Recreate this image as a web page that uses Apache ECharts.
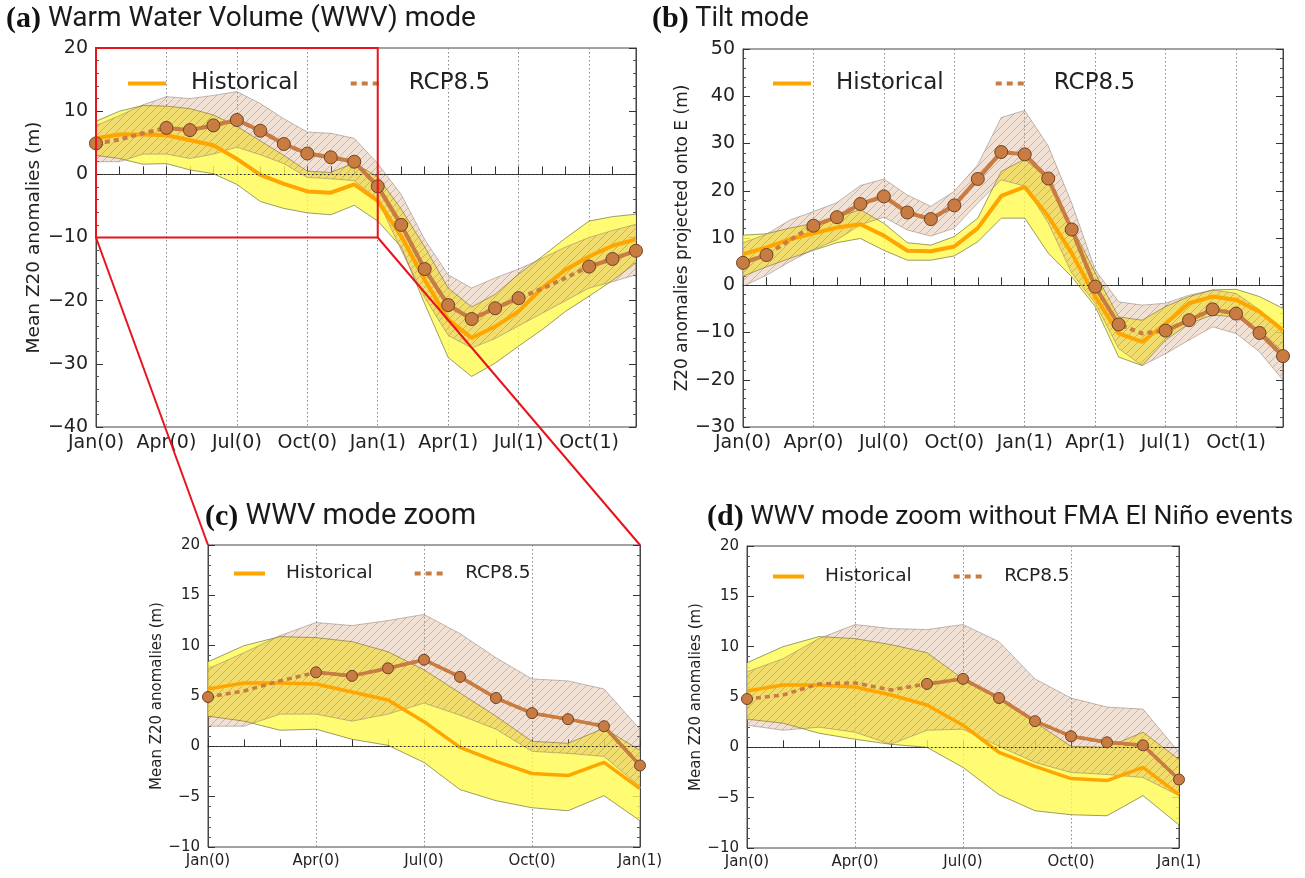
<!DOCTYPE html>
<html lang="en">
<head>
<meta charset="UTF-8">
<title>WWV and tilt modes</title>
<script src="https://cdn.jsdelivr.net/npm/echarts@6/dist/echarts.min.js"></script>
<style>
    html, body { margin: 0; padding: 0; background: #fff; }
    #chart { width: 1305px; height: 878px; }
</style>
</head>
<body>
<div id="chart"></div>
<script type="text/javascript">
// month labels (ticks every month, labels every 3rd)
var months24 = ['Jan(0)', 'Feb(0)', 'Mar(0)', 'Apr(0)', 'May(0)', 'Jun(0)', 'Jul(0)', 'Aug(0)', 'Sep(0)', 'Oct(0)', 'Nov(0)', 'Dec(0)',
    'Jan(1)', 'Feb(1)', 'Mar(1)', 'Apr(1)', 'May(1)', 'Jun(1)', 'Jul(1)', 'Aug(1)', 'Sep(1)', 'Oct(1)', 'Nov(1)', 'Dec(1)'];
var months13 = months24.slice(0, 13);

// (a) WWV mode, 24 months
var histA   = [5.7, 6.3, 6.3, 6.2, 5.4, 4.6, 2.45, -0.1, -1.5, -2.7, -2.9, -1.6, -4.2, -9.8, -16.7, -23.0, -25.9, -24.1, -21.7, -18.0, -15.1, -13.0, -11.3, -10.3];
var histHiA = [8.4, 10.0, 10.9, 10.8, 10.4, 9.4, 7.6, 5.3, 3.0, 0.5, 0.3, 1.8, -0.4, -5.5, -11.5, -18.0, -21.0, -19.0, -15.8, -13.0, -10.1, -7.4, -6.7, -6.3];
var histLoA = [3.0, 2.5, 1.6, 1.7, 0.7, 0.1, -1.6, -4.3, -5.4, -6.1, -6.4, -4.9, -7.4, -11.5, -20.5, -29.0, -32.0, -29.9, -27.2, -24.6, -21.7, -19.3, -16.8, -14.0];
var rcpA    = [4.9, 5.5, 6.5, 7.35, 7.0, 7.75, 8.6, 6.9, 4.8, 3.3, 2.7, 2.0, -1.9, -8.0, -15.0, -20.7, -22.9, -21.2, -19.6, -18.1, -16.4, -14.6, -13.4, -12.1];
var rcpHiA  = [7.7, 9.3, 11.0, 12.3, 12.0, 12.5, 13.1, 11.2, 8.8, 6.7, 6.5, 5.7, 1.7, -3.2, -10.3, -15.9, -18.0, -16.4, -15.0, -13.3, -11.5, -10.0, -8.9, -7.9];
var rcpLoA  = [2.0, 2.0, 3.2, 3.2, 2.5, 3.2, 4.3, 3.1, 1.7, -0.5, -0.7, -1.0, -4.0, -12.0, -19.5, -25.5, -27.5, -26.0, -24.0, -22.0, -20.0, -18.0, -17.0, -15.9];
var sigA    = [0, 3, 4, 5, 6, 7, 8, 9, 10, 11, 12, 13, 14, 15, 16, 17, 18, 21, 22, 23];

// (b) Tilt mode, 24 months
var histB   = [6.6, 8.0, 9.7, 11.0, 12.2, 12.9, 10.5, 7.3, 7.2, 8.2, 12.1, 18.9, 20.8, 14.6, 6.8, -2.4, -10.2, -12.0, -8.1, -3.8, -2.4, -3.1, -5.6, -9.5];
var histHiB = [10.6, 10.9, 12.1, 13.1, 14.4, 16.0, 13.1, 9.0, 8.5, 10.3, 14.2, 24.1, 26.7, 22.4, 12.5, 2.6, -6.7, -7.4, -4.5, -2.4, -1.0, -0.85, -2.4, -4.9];
var histLoB = [1.9, 3.9, 5.7, 7.4, 9.0, 9.9, 7.4, 5.3, 5.3, 6.2, 9.2, 14.2, 14.2, 6.8, 1.8, -4.5, -15.2, -17.0, -11.6, -8.1, -6.3, -6.7, -9.5, -14.1];
var rcpB    = [4.75, 6.4, 9.6, 12.6, 14.4, 17.2, 18.8, 15.4, 14.0, 16.9, 22.5, 28.2, 27.7, 22.6, 11.8, -0.3, -8.3, -10.2, -9.6, -7.4, -5.1, -6.0, -10.1, -15.0];
var rcpHiB  = [9.0, 10.8, 13.8, 15.6, 17.5, 21.1, 22.5, 19.1, 16.7, 19.9, 25.5, 35.5, 37.0, 29.5, 17.4, 3.3, -3.5, -4.2, -3.8, -2.1, -1.0, -1.7, -5.2, -10.2];
var rcpLoB  = [-0.2, 2.1, 5.0, 7.6, 9.6, 12.8, 14.4, 11.7, 10.4, 12.1, 17.4, 22.3, 21.0, 13.2, 2.6, -3.8, -13.4, -17.0, -14.5, -11.6, -8.8, -10.2, -14.1, -20.1];
var sigB    = [0, 1, 3, 4, 5, 6, 7, 8, 9, 10, 11, 12, 13, 14, 15, 16, 18, 19, 20, 21, 22, 23];

// (d) WWV mode zoom without FMA El Nino events, 13 months
var histD   = [5.6, 6.2, 6.2, 6.0, 5.2, 4.2, 2.2, -0.5, -1.9, -3.1, -3.3, -2.0, -4.7];
var histHiD = [8.4, 10.0, 11.0, 10.8, 10.2, 9.4, 6.8, 4.8, 2.5, 0.1, 0.0, 1.5, -1.2];
var histLoD = [2.8, 2.4, 1.4, 0.8, 0.3, 0.0, -2.0, -4.7, -6.3, -6.7, -6.8, -4.8, -7.7];
var rcpD    = [4.8, 5.2, 6.3, 6.4, 5.7, 6.3, 6.8, 4.9, 2.6, 1.1, 0.5, 0.2, -3.2];
var rcpHiD  = [7.5, 8.8, 10.8, 12.2, 11.8, 11.7, 12.2, 10.5, 6.8, 4.9, 4.0, 3.8, -0.5];
var rcpLoD  = [2.2, 1.7, 2.0, 1.5, 0.3, 1.7, 1.8, 0.1, -1.5, -2.5, -2.7, -3.0, -4.8];
var sigD    = [0, 5, 6, 7, 8, 9, 10, 11, 12];

// red zoom box of panel (a): months and value range shown in (c)
var zoomMonths = [0, 12];
var zoomRange = [-10, 20];

var ORANGE = '#ffa500';
var BROWN = '#c87c42';

function hatchCanvas() {
    var s = 8;
    var c = document.createElement('canvas');
    c.width = s; c.height = s;
    var g = c.getContext('2d');
    g.fillStyle = 'rgba(205,140,95,0.27)';
    g.fillRect(0, 0, s, s);
    g.strokeStyle = 'rgba(105,95,85,0.32)';
    g.lineWidth = 1;
    g.beginPath();
    g.moveTo(0, s); g.lineTo(s, 0);
    g.moveTo(-1, 1); g.lineTo(1, -1);
    g.moveTo(s - 1, s + 1); g.lineTo(s + 1, s - 1);
    g.stroke();
    return c;
}
var hatch = hatchCanvas();

function minus(v) { return String(v).replace('-', '\u2212'); }
function spread(hi, lo) { return hi.map(function (v, i) { return +(v - lo[i]).toFixed(2); }); }
function onlySig(vals, sig) { return vals.map(function (v, i) { return sig.indexOf(i) >= 0 ? v : null; }); }

var grids = [], xAxes = [], yAxes = [], series = [], legends = [], titles = [];

function addPanel(p) {
    var gi = grids.length;
    grids.push({left: p.box[0], top: p.box[1], width: p.box[2], height: p.box[3],
        show: true, borderColor: '#444', borderWidth: 1, backgroundColor: 'transparent'});
    xAxes.push({
        type: 'category', gridIndex: gi, data: p.cats, boundaryGap: false,
        axisLine: {show: true, lineStyle: {color: '#444'}},
        axisTick: {show: true, inside: true, interval: 0, length: p.big ? 8 : 7, lineStyle: {color: '#333'}},
        axisLabel: {interval: 2, fontSize: p.tickFont, color: '#222', fontFamily: 'DejaVu Sans', margin: 7},
        splitLine: {show: true, interval: 2, lineStyle: {type: [1.5, 2.5], color: '#888', width: 1}}
    });
    var yBase = {
        type: 'value', gridIndex: gi, min: p.y[0], max: p.y[1], interval: p.y[2],
        axisLine: {show: true, lineStyle: {color: '#444'}},
        axisTick: {show: true, inside: true, length: 7, lineStyle: {color: '#333'}},
        minorTick: {show: true, splitNumber: 5, length: 3, lineStyle: {color: '#555'}},
        splitLine: {show: false}
    };
    yAxes.push(Object.assign({}, yBase, {
        position: 'left',
        axisLabel: {fontSize: p.tickFont, color: '#222', fontFamily: 'DejaVu Sans', margin: 8, formatter: minus},
        name: p.yName, nameLocation: 'middle', nameGap: p.yNameGap,
        nameTextStyle: {fontSize: p.yNameFont, color: '#222', fontFamily: 'DejaVu Sans'}
    }));
    yAxes.push(Object.assign({}, yBase, {position: 'right', axisLabel: {show: false}}));

    var xi = gi, yi = 2 * gi;
    var common = {xAxisIndex: xi, yAxisIndex: yi, type: 'line', silent: true, showSymbol: false, symbol: 'none'};
    series.push(Object.assign({}, common, {
        name: 'hist-lo', data: p.hLo, stack: 'h' + gi, stackStrategy: 'all', z: 1,
        lineStyle: {color: 'rgba(110,110,60,0.85)', width: 0.8}
    }));
    series.push(Object.assign({}, common, {
        name: 'hist-band', data: spread(p.hHi, p.hLo), stack: 'h' + gi, stackStrategy: 'all', z: 1,
        lineStyle: {color: 'rgba(110,110,60,0.85)', width: 0.8},
        areaStyle: {color: 'rgba(255,250,80,0.8)', opacity: 1}
    }));
    series.push(Object.assign({}, common, {
        name: 'rcp-lo', data: p.rLo, stack: 'r' + gi, stackStrategy: 'all', z: 2,
        lineStyle: {color: 'rgba(130,115,105,0.6)', width: 0.8}
    }));
    series.push(Object.assign({}, common, {
        name: 'rcp-band', data: spread(p.rHi, p.rLo), stack: 'r' + gi, stackStrategy: 'all', z: 2,
        lineStyle: {color: 'rgba(130,115,105,0.6)', width: 0.8},
        areaStyle: {color: {image: hatch, repeat: 'repeat'}, opacity: 1}
    }));
    series.push(Object.assign({}, common, {
        name: 'Historical', data: p.hist, z: 3,
        lineStyle: {color: ORANGE, width: p.lineW},
        itemStyle: {color: ORANGE},
        markLine: {
            silent: true, symbol: 'none', label: {show: false},
            lineStyle: {type: [1.5, 2.5], color: '#222', width: 1},
            data: [{yAxis: 0}]
        }
    }));
    series.push(Object.assign({}, common, {
        name: 'RCP8.5', data: p.rcp, z: 4,
        lineStyle: {color: BROWN, width: p.lineW, type: [5, 4]},
        itemStyle: {color: BROWN}
    }));
    series.push(Object.assign({}, common, {
        name: 'RCP8.5', data: onlySig(p.rcp, p.sig), z: 5,
        showSymbol: true, showAllSymbol: true, symbol: 'circle', symbolSize: p.sym,
        lineStyle: {color: BROWN, width: p.lineW},
        itemStyle: {color: BROWN, borderColor: '#6e4326', borderWidth: 1}
    }));

    legends.push({
        left: p.box[0] + p.leg[0], top: p.box[1] + p.leg[1],
        itemWidth: p.leg[2], itemHeight: 4, itemGap: p.leg[3],
        selectedMode: false,
        textStyle: {fontSize: p.legFont, color: '#222', fontFamily: 'DejaVu Sans', padding: [0, 0, 0, p.leg[4]]},
        data: [
            {name: 'Historical', icon: 'rect', itemStyle: {color: ORANGE, borderWidth: 0}},
            {name: 'RCP8.5', icon: 'path://M0,0h6v4h-6z M11,0h6v4h-6z M22,0h6v4h-6z', itemStyle: {color: BROWN, borderWidth: 0}}
        ]
    });
    titles.push({
        left: p.title[0], top: p.title[1], padding: 0,
        text: '{b|' + p.title[2] + '} ' + p.title[3],
        textStyle: {
            fontFamily: 'Roboto', fontSize: p.title[4], fontWeight: 'normal', color: '#1a1a1a',
            rich: {b: {fontFamily: 'Liberation Serif', fontWeight: 'bold', fontSize: 30, color: '#111'}}
        }
    });
}

addPanel({box: [96, 48, 540, 379], cats: months24, y: [-40, 20, 10], big: true,
    yName: 'Mean Z20 anomalies (m)', yNameGap: 52, yNameFont: 18.5, tickFont: 19,
    hist: histA, hHi: histHiA, hLo: histLoA, rcp: rcpA, rHi: rcpHiA, rLo: rcpLoA, sig: sigA,
    lineW: 4, sym: 13, legFont: 23, leg: [27, 19, 38, 52, 20],
    title: [6, 4, '(a)', 'Warm Water Volume (WWV) mode', 28]});
addPanel({box: [743, 49, 540, 378], cats: months24, y: [-30, 50, 10], big: true,
    yName: 'Z20 anomalies projected onto E (m)', yNameGap: 50, yNameFont: 17, tickFont: 19,
    hist: histB, hHi: histHiB, hLo: histLoB, rcp: rcpB, rHi: rcpHiB, rLo: rcpLoB, sig: sigB,
    lineW: 4, sym: 13, legFont: 23, leg: [25, 18, 38, 52, 20],
    title: [652, 4, '(b)', 'Tilt mode', 27]});
addPanel({box: [208, 545, 432, 302], cats: months13, y: [-10, 20, 5],
    yName: 'Mean Z20 anomalies (m)', yNameGap: 40, yNameFont: 15, tickFont: 15,
    hist: histA.slice(0, 13), hHi: histHiA.slice(0, 13), hLo: histLoA.slice(0, 13),
    rcp: rcpA.slice(0, 13), rHi: rcpHiA.slice(0, 13), rLo: rcpLoA.slice(0, 13), sig: sigA,
    lineW: 3.5, sym: 11, legFont: 18.5, leg: [21, 14, 31, 42, 16],
    title: [205, 502, '(c)', 'WWV mode zoom', 29]});
addPanel({box: [747, 546, 432, 302], cats: months13, y: [-10, 20, 5],
    yName: 'Mean Z20 anomalies (m)', yNameGap: 40, yNameFont: 15, tickFont: 15,
    hist: histD, hHi: histHiD, hLo: histLoD, rcp: rcpD, rHi: rcpHiD, rLo: rcpLoD, sig: sigD,
    lineW: 3.5, sym: 11, legFont: 18.5, leg: [21, 16, 31, 42, 16],
    title: [707, 502, '(d)', 'WWV mode zoom without FMA El Niño events', 26.6]});

var chart = echarts.init(document.getElementById('chart'), null, {renderer: 'canvas'});
chart.setOption({
    animation: false,
    backgroundColor: '#fff',
    title: titles,
    legend: legends,
    grid: grids,
    xAxis: xAxes,
    yAxis: yAxes,
    series: series
});

// red zoom box in (a) and connectors to (c)
var a0 = chart.convertToPixel({xAxisIndex: 0, yAxisIndex: 0}, [zoomMonths[0], zoomRange[1]]);
var a1 = chart.convertToPixel({xAxisIndex: 0, yAxisIndex: 0}, [zoomMonths[1], zoomRange[0]]);
var c0 = chart.convertToPixel({xAxisIndex: 2, yAxisIndex: 4}, [zoomMonths[0], zoomRange[1]]);
var c1 = chart.convertToPixel({xAxisIndex: 2, yAxisIndex: 4}, [zoomMonths[1], zoomRange[1]]);
var red = {stroke: '#e8141c', lineWidth: 2, fill: null};
chart.setOption({
    graphic: [
        {type: 'rect', z: 100, silent: true, shape: {x: a0[0], y: a0[1], width: a1[0] - a0[0], height: a1[1] - a0[1]}, style: red},
        {type: 'line', z: 100, silent: true, shape: {x1: a0[0], y1: a1[1], x2: c0[0], y2: c0[1]}, style: red},
        {type: 'line', z: 100, silent: true, shape: {x1: a1[0], y1: a1[1], x2: c1[0], y2: c1[1]}, style: red}
    ]
});
</script>
</body>
</html>
